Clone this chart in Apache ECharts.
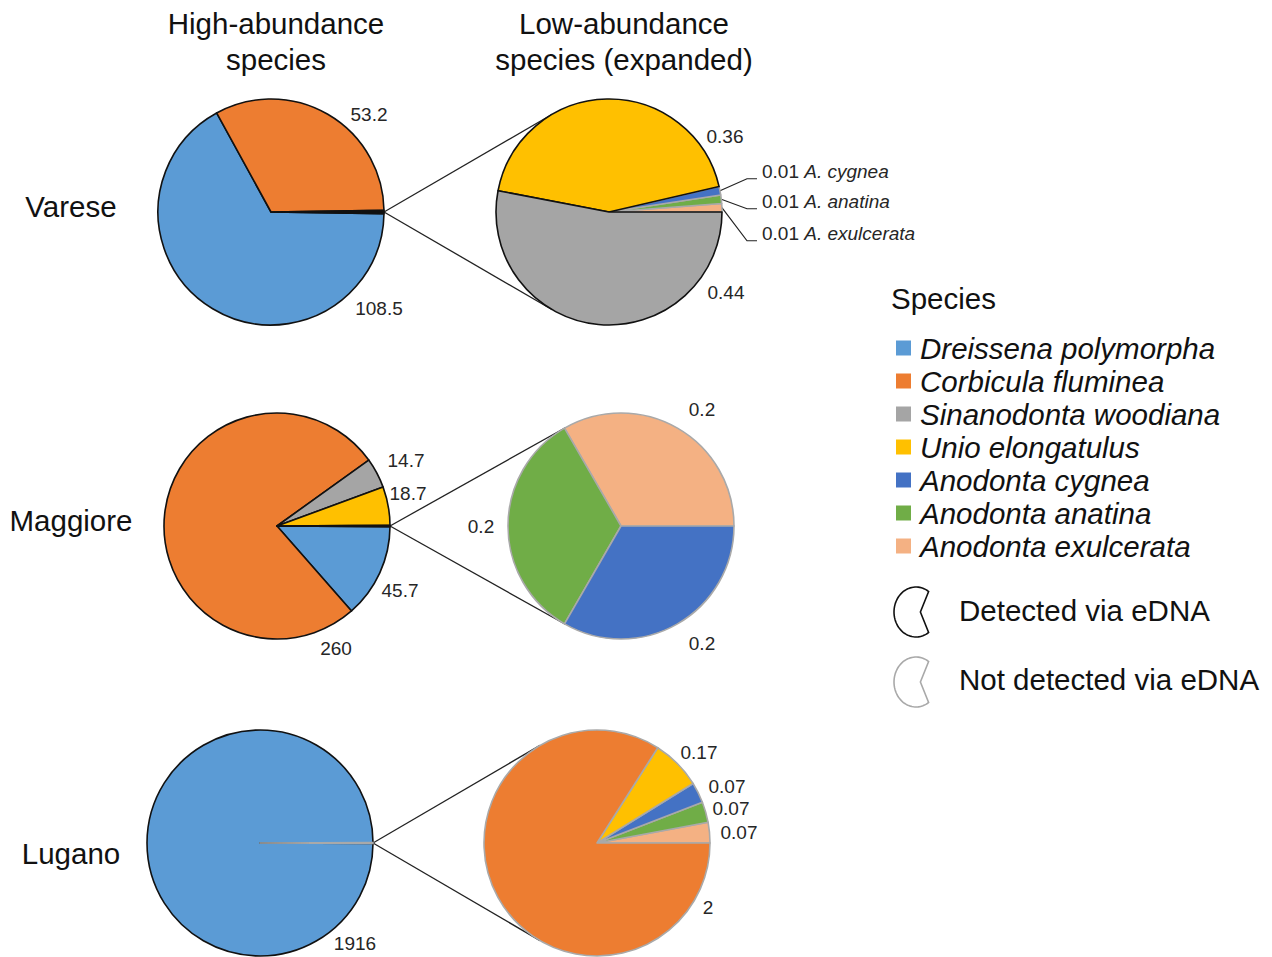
<!DOCTYPE html>
<html>
<head>
<meta charset="utf-8">
<script src="https://cdn.jsdelivr.net/npm/echarts@6/dist/echarts.min.js"></script>
<style>
html,body{margin:0;padding:0;background:#fff;}
#chart{width:1272px;height:957px;}
</style>
</head>
<body>
<div id="chart"></div>
<script>
// ---------------- DATA ----------------
const species = ['Dreissena polymorpha', 'Corbicula fluminea', 'Sinanodonta woodiana', 'Unio elongatulus',
                 'Anodonta cygnea', 'Anodonta anatina', 'Anodonta exulcerata'];
const lakes = ['Varese', 'Maggiore', 'Lugano'];
const columnTitles = ['High-abundance\nspecies', 'Low-abundance\nspecies (expanded)'];
const detectionLabels = ['Detected via eDNA', 'Not detected via eDNA'];
const legendTitle = 'Species';

// densities per lake, in species order (null = not present)
const vareseDensity   = [108.5, 53.2, 0.44, 0.36, 0.01, 0.01, 0.01];
const maggioreDensity = [45.7, 260, 14.7, 18.7, 0.2, 0.2, 0.2];
const luganoDensity   = [1916, 2, null, 0.17, 0.07, 0.07, 0.07];

// which species are in the high-abundance (left) pie
const vareseHigh   = [true, true, false, false, false, false, false];
const maggioreHigh = [true, true, true, true, false, false, false];
const luganoHigh   = [true, false, false, false, false, false, false];

// detected via eDNA
const vareseDetected   = [true, true, true, true, false, false, false];
const maggioreDetected = [true, true, true, true, false, false, false];
const luganoDetected   = [true, false, false, false, false, false, false];
// outline of the grouped "other" slice in the left pies
const otherSliceDetected = [true, true, false];

// ---------------- STYLE / LAYOUT ----------------
const COLORS = ['#5B9BD5', '#ED7D31', '#A5A5A5', '#FFC000', '#4472C4', '#70AD47', '#F4B183'];
const EDGE_ON = '#111111', EDGE_OFF = '#A9A9A9', EDGE_W = 1.6;
const FONT = '"Liberation Sans", Arial, Helvetica, sans-serif';
const BIG = 29.5, SMALL = 19;
const TEXT = '#111111', VALUE_TEXT = '#262626';
const RADIUS = 113;
const PIE_CENTERS = [[[271, 212], [609, 212]], [[277, 526], [621, 526]], [[260, 843], [597, 843]]];
// label text positions relative to each pie centre, keyed by species index
const LABEL_POS = [
  [{0: [108, 96], 1: [98, -98]}, {2: [117, 80], 3: [116, -76], 4: [148, -34], 5: [148, -4], 6: [148, 28]}],
  [{0: [123, 64], 1: [59, 122], 2: [129, -66], 3: [131, -33]}, {4: [81, 117], 5: [-140, 0], 6: [81, -117]}],
  [{0: [95, 100]}, {1: [111, 64], 3: [102, -91], 4: [130, -57], 5: [134, -35], 6: [142, -11]}]
];
// labels that show an abbreviated species name with a leader line
const NAMED_LABELS = [[4, 5, 6], [], []];

const densities = [vareseDensity, maggioreDensity, luganoDensity];
const highFlags = [vareseHigh, maggioreHigh, luganoHigh];
const detectedFlags = [vareseDetected, maggioreDetected, luganoDetected];

function abbrev(name) {
  const parts = name.split(' ');
  return parts[0].charAt(0) + '. ' + parts.slice(1).join(' ');
}

const series = [];
const graphics = [];

lakes.forEach((lake, li) => {
  const vals = densities[li], high = highFlags[li], det = detectedFlags[li];
  const idx = species.map((_, i) => i).filter(i => vals[i] != null);
  const hiIdx = idx.filter(i => high[i]);
  const loIdx = idx.filter(i => !high[i]);
  const otherSum = loIdx.reduce((s, i) => s + vals[i], 0);
  const total = hiIdx.reduce((s, i) => s + vals[i], 0) + otherSum;

  const makeItem = (i, side) => {
    const named = side === 1 && NAMED_LABELS[li].indexOf(i) >= 0;
    const it = {
      name: species[i],
      value: vals[i],
      itemStyle: { color: COLORS[i], borderColor: det[i] ? EDGE_ON : EDGE_OFF, borderWidth: EDGE_W }
    };
    if (named) {
      it.label = {
        formatter: '{g| }{v|' + vals[i] + '} {n|' + abbrev(species[i]) + '}\n{s| }',
        rich: {
          g: { width: 5, fontSize: SMALL, lineHeight: 22 },
          v: { fontSize: SMALL, fontFamily: FONT, color: VALUE_TEXT, lineHeight: 22 },
          n: { fontSize: SMALL, fontFamily: FONT, color: VALUE_TEXT, fontStyle: 'italic', lineHeight: 22 },
          s: { fontSize: 6, lineHeight: 14, height: 14 }
        }
      };
      it.labelLine = { show: true, length: 10, length2: 10, lineStyle: { color: '#222', width: 1.2 } };
    }
    return it;
  };

  const otherColor = otherSliceDetected[li] ? EDGE_ON : EDGE_OFF;
  const leftItems = hiIdx.map(i => makeItem(i, 0)).concat([{
    name: 'Other', value: otherSum,
    itemStyle: { color: otherColor, borderColor: otherColor, borderWidth: EDGE_W },
    label: { show: false }
  }]);
  const leftSp = hiIdx.concat([-1]);
  const rightIdx = loIdx.slice().reverse();
  const rightItems = rightIdx.map(i => makeItem(i, 1));

  const base = (side, spList) => ({
    type: 'pie',
    center: PIE_CENTERS[li][side],
    radius: RADIUS,
    silent: true,
    avoidLabelOverlap: false,
    animation: false,
    label: {
      show: true, position: 'outside', fontSize: SMALL, fontFamily: FONT, color: VALUE_TEXT,
      formatter: p => String(p.value)
    },
    labelLine: { show: false, length: 10, length2: 10 },
    emphasis: { disabled: true, scale: false },
    labelLayout: p => {
      const sp = spList[p.dataIndex];
      const off = LABEL_POS[li][side][sp];
      if (!off) return {};
      const c = PIE_CENTERS[li][side];
      const named = side === 1 && NAMED_LABELS[li].indexOf(sp) >= 0;
      return { x: c[0] + off[0], y: c[1] + off[1], align: named ? 'left' : 'center', verticalAlign: 'middle' };
    }
  });

  series.push(Object.assign(base(0, leftSp), {
    name: lake + ' high', clockwise: true, startAngle: -otherSum / total * 180, data: leftItems
  }));
  series.push(Object.assign(base(1, rightIdx), {
    name: lake + ' low', clockwise: false, startAngle: 0, data: rightItems
  }));

  // connector lines: from the grouped slice to tangents of the expanded pie
  const cl = PIE_CENTERS[li][0], cr = PIE_CENTERS[li][1];
  const P = [cl[0] + RADIUS, cl[1]];
  const dx = P[0] - cr[0], dy = P[1] - cr[1];
  const d = Math.sqrt(dx * dx + dy * dy);
  const phi = Math.atan2(dy, dx), th = Math.acos(RADIUS / d);
  [phi + th, phi - th].forEach(a => {
    graphics.push({
      type: 'line', silent: true, z: 1,
      shape: { x1: P[0], y1: P[1], x2: cr[0] + RADIUS * Math.cos(a), y2: cr[1] + RADIUS * Math.sin(a) },
      style: { stroke: '#222', lineWidth: 1.3 }
    });
  });

  // row label
  graphics.push({
    type: 'text', silent: true, x: 71, y: [206, 520, 853][li],
    style: { text: lake, font: BIG + 'px ' + FONT, fill: TEXT, align: 'center', verticalAlign: 'middle' }
  });
});

// column headers
[276, 624].forEach((x, k) => {
  graphics.push({
    type: 'text', silent: true, x: x, y: 41,
    style: { text: columnTitles[k], font: BIG + 'px ' + FONT, fill: TEXT, align: 'center', verticalAlign: 'middle', lineHeight: 36 }
  });
});

// legend title
graphics.push({
  type: 'text', silent: true, x: 891, y: 298,
  style: { text: legendTitle, font: BIG + 'px ' + FONT, fill: TEXT, align: 'left', verticalAlign: 'middle' }
});

// detection icons (pie outline with the grouped slice cut out)
function iconPoints(cx, cy, rx, ry) {
  const pts = [];
  const a0 = 55 * Math.PI / 180, a1 = 305 * Math.PI / 180;
  for (let k = 0; k <= 60; k++) {
    const a = a0 + (a1 - a0) * k / 60;
    pts.push([cx + rx * Math.cos(a), cy - ry * Math.sin(a)]);
  }
  pts.push([cx + rx * 0.2, cy]);
  return pts;
}
[[612, EDGE_ON], [682, EDGE_OFF]].forEach((d, k) => {
  graphics.push({
    type: 'polygon', silent: true,
    shape: { points: iconPoints(916, d[0], 22, 25) },
    style: { fill: '#fff', stroke: d[1], lineWidth: 1.6, lineJoin: 'miter' }
  });
  graphics.push({
    type: 'text', silent: true, x: 959, y: [610, 679][k],
    style: { text: detectionLabels[k], font: BIG + 'px ' + FONT, fill: TEXT, align: 'left', verticalAlign: 'middle' }
  });
});

const chart = echarts.init(document.getElementById('chart'), null, { renderer: 'svg' });
chart.setOption({
  backgroundColor: '#ffffff',
  animation: false,
  legend: {
    data: species,
    orient: 'vertical',
    left: 896, top: 331.5,
    padding: 0,
    itemGap: 0,
    itemWidth: 15, itemHeight: 15,
    icon: 'rect',
    selectedMode: false,
    itemStyle: { borderWidth: 0 },
    textStyle: { fontSize: BIG, fontStyle: 'italic', fontFamily: FONT, color: TEXT, lineHeight: 33, padding: [0, 0, 0, 4] }
  },
  graphic: { elements: graphics },
  series: series
});
</script>
</body>
</html>
